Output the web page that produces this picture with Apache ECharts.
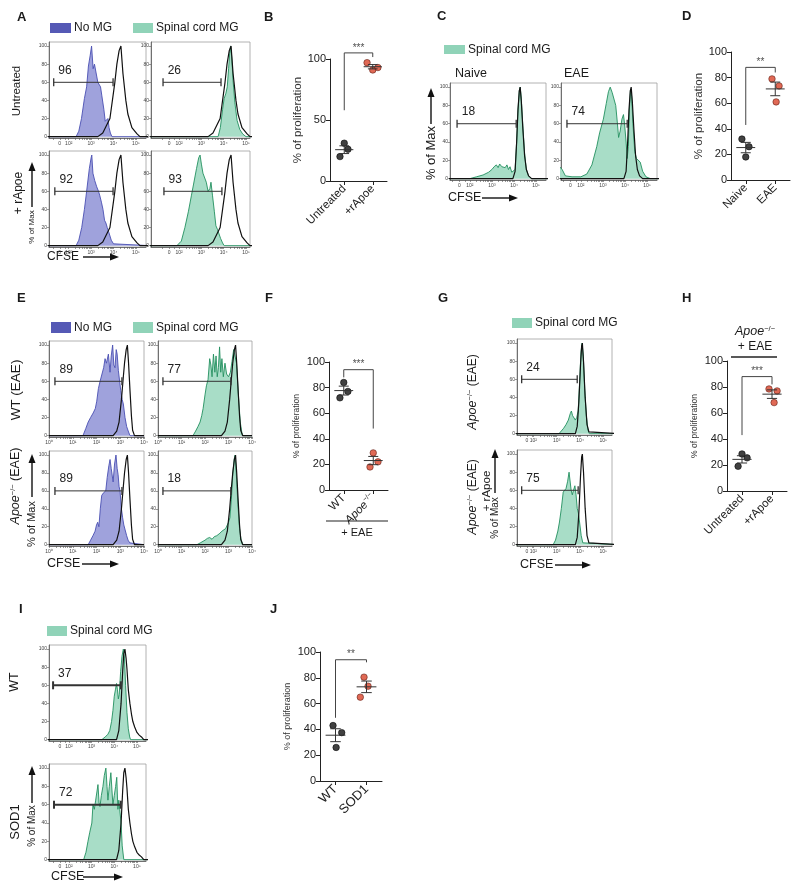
<!DOCTYPE html>
<html>
<head>
<meta charset="utf-8">
<script src="https://cdn.jsdelivr.net/npm/echarts@6/dist/echarts.min.js"></script>
<style>
html, body { margin: 0; background: #fff; }
#main { width: 800px; height: 892px; }
</style>
</head>
<body>
<div id="main"></div>
<script>
// ---- histogram data: [position on CFSE axis (decades), % of max] ----
var ctrlA = [[0.7,0],[3.3,0],[3.52,4],[3.84,20],[4.06,60],[4.15,80],[4.25,95],[4.33,100],[4.42,70],[4.55,40],[4.64,25],[4.82,10],[5.05,3],[5.18,0],[5.6,0]];
var a1NoMG = [[0.7,0],[2.33,0],[2.45,6],[2.57,20],[2.7,42],[2.8,55],[2.88,78],[2.96,90],[3.02,100],[3.09,75],[3.15,80],[3.21,80],[3.3,60],[3.38,58],[3.42,55],[3.48,45],[3.57,30],[3.63,17],[3.68,15],[3.75,20],[3.8,10],[3.86,4],[3.93,0],[5.6,0]];
var a2SpMG = [[0.7,0],[3.75,0],[3.85,10],[3.95,30],[4.02,42],[4.1,48],[4.16,55],[4.22,75],[4.27,92],[4.31,100],[4.36,88],[4.42,62],[4.5,38],[4.6,18],[4.72,8],[4.85,3],[5.0,0],[5.6,0]];
var a3NoMG = [[0.7,0],[2.33,0],[2.45,6],[2.58,20],[2.7,40],[2.8,60],[2.92,85],[3.0,97],[3.03,100],[3.08,80],[3.16,72],[3.25,65],[3.33,60],[3.39,55],[3.46,48],[3.53,40],[3.6,28],[3.66,25],[3.72,20],[3.8,14],[3.9,6],[4.0,2],[4.06,0],[5.6,0]];
var a4SpMG = [[0.7,0],[1.9,0],[2.1,5],[2.26,20],[2.42,38],[2.55,55],[2.65,68],[2.78,85],[2.88,97],[2.94,100],[3.0,90],[3.07,80],[3.15,78],[3.22,70],[3.3,60],[3.38,63],[3.43,70],[3.5,55],[3.58,38],[3.65,22],[3.72,18],[3.8,17],[3.86,8],[3.95,3],[4.02,0],[5.6,0]];

var ctrlC = [[1,0],[3.95,0],[4.05,8],[4.12,40],[4.18,75],[4.24,96],[4.28,100],[4.33,85],[4.4,55],[4.48,25],[4.56,10],[4.66,3],[4.8,0],[5.6,0]];
var cNaive = [[1,0],[2.0,0],[2.3,2],[2.6,4],[2.85,7],[3.0,10],[3.1,13],[3.2,15],[3.28,12],[3.35,16],[3.45,13],[3.52,15],[3.6,12],[3.68,15],[3.75,10],[3.82,13],[3.9,7],[3.98,5],[4.05,10],[4.12,40],[4.18,75],[4.24,96],[4.28,100],[4.33,88],[4.4,58],[4.48,28],[4.56,10],[4.66,3],[4.8,0],[5.6,0]];
var cEAE = [[1,14],[1.15,10],[1.3,3],[1.6,2],[2.0,2],[2.27,5],[2.5,15],[2.72,35],[2.85,50],[3.02,65],[3.15,82],[3.25,95],[3.33,100],[3.42,94],[3.5,96],[3.58,80],[3.65,62],[3.71,45],[3.78,52],[3.86,65],[3.93,70],[3.98,60],[4.05,40],[4.1,22],[4.15,35],[4.2,75],[4.25,98],[4.3,90],[4.36,60],[4.44,30],[4.52,22],[4.6,20],[4.69,18],[4.8,8],[4.95,2],[5.15,0],[5.6,0]];

var ctrlE = [[0,0],[2.7,0],[2.85,5],[2.95,15],[3.05,40],[3.12,62],[3.18,80],[3.25,95],[3.3,100],[3.35,80],[3.41,50],[3.47,22],[3.52,6],[3.6,0],[4,0]];
var e1NoMG = [[0,0],[1.43,0],[1.55,8],[1.65,15],[1.75,20],[1.86,25],[1.95,30],[2.01,38],[2.08,52],[2.15,60],[2.22,58],[2.3,75],[2.36,85],[2.42,80],[2.5,90],[2.57,70],[2.62,88],[2.68,100],[2.73,78],[2.78,75],[2.83,95],[2.87,90],[2.92,72],[2.96,70],[3.02,50],[3.08,40],[3.13,35],[3.2,20],[3.27,10],[3.35,4],[3.41,0],[4,0]];
var e2SpMG = [[0,0],[1.49,0],[1.6,5],[1.7,10],[1.79,15],[1.86,22],[1.92,30],[2.0,45],[2.06,55],[2.13,62],[2.2,85],[2.25,78],[2.3,65],[2.36,90],[2.42,70],[2.47,88],[2.52,65],[2.57,75],[2.62,98],[2.67,70],[2.72,85],[2.78,65],[2.85,80],[2.92,68],[3.0,65],[3.08,70],[3.15,82],[3.22,95],[3.28,97],[3.34,80],[3.42,45],[3.5,15],[3.57,3],[3.62,0],[4,0]];
var e3NoMG = [[0,0],[1.65,0],[1.75,5],[1.85,10],[1.94,15],[2.0,22],[2.05,25],[2.1,20],[2.16,40],[2.22,55],[2.3,58],[2.39,60],[2.45,75],[2.52,88],[2.57,95],[2.62,85],[2.7,70],[2.76,90],[2.82,100],[2.87,85],[2.91,78],[2.95,65],[2.99,60],[3.05,40],[3.1,30],[3.15,22],[3.2,20],[3.27,10],[3.33,5],[3.4,2],[3.48,0],[4,0]];
var e4SpMG = [[0,0],[1.66,0],[1.8,2],[2.0,5],[2.1,7],[2.2,8],[2.3,6],[2.4,9],[2.5,10],[2.6,12],[2.72,15],[2.8,14],[2.88,18],[2.93,20],[3.0,25],[3.06,30],[3.12,50],[3.18,78],[3.24,95],[3.28,100],[3.33,80],[3.4,45],[3.47,18],[3.54,5],[3.62,0],[4,0]];

var ctrlG = [[1,0],[3.8,0],[3.88,8],[3.95,35],[4.02,75],[4.07,97],[4.1,100],[4.15,80],[4.22,40],[4.3,10],[4.38,2],[4.45,0],[5.6,0]];
var g1SpMG = [[1,0],[3.1,0],[3.2,3],[3.3,6],[3.4,10],[3.5,15],[3.58,22],[3.63,25],[3.68,20],[3.75,18],[3.8,15],[3.86,18],[3.92,25],[3.98,55],[4.04,90],[4.09,100],[4.14,85],[4.2,50],[4.27,20],[4.34,4],[4.4,0],[5.6,0]];
var g2SpMG = [[1,0],[2.85,0],[2.95,5],[3.05,15],[3.12,25],[3.2,40],[3.28,58],[3.33,60],[3.4,62],[3.47,70],[3.53,80],[3.57,78],[3.62,60],[3.67,55],[3.72,60],[3.78,65],[3.83,55],[3.88,40],[3.93,35],[3.98,25],[4.05,10],[4.12,2],[4.18,0],[5.6,0]];

var ctrlI = [[1,0],[4.1,0],[4.2,10],[4.3,40],[4.37,75],[4.42,95],[4.47,100],[4.52,90],[4.56,78],[4.62,55],[4.69,40],[4.76,28],[4.82,20],[4.9,14],[5.0,8],[5.1,5],[5.2,3],[5.3,0],[5.6,0]];
var i1WT = [[1,0],[3.45,0],[3.6,3],[3.72,6],[3.8,10],[3.88,20],[3.94,32],[4.0,48],[4.05,55],[4.1,62],[4.14,55],[4.18,45],[4.22,50],[4.28,75],[4.34,92],[4.4,100],[4.45,90],[4.5,60],[4.56,30],[4.62,12],[4.68,3],[4.72,0],[5.6,0]];
var i2SOD1 = [[1,0],[2.65,0],[2.75,8],[2.84,20],[2.92,30],[3.01,40],[3.06,60],[3.12,55],[3.18,65],[3.24,75],[3.28,82],[3.33,62],[3.37,58],[3.43,70],[3.5,80],[3.56,92],[3.63,100],[3.68,80],[3.72,65],[3.78,80],[3.85,95],[3.9,75],[3.94,60],[4.0,70],[4.06,80],[4.11,90],[4.16,55],[4.2,65],[4.24,55],[4.3,40],[4.35,15],[4.42,0],[5.6,0]];

// gate [start, end] and % in gate
var gatesA = [[1.33,3.98],[1.28,3.88],[1.38,3.98],[1.32,3.92]], numsA = ['96','26','92','93'];
var gatesC = [[1.42,4.1],[1.37,4.1]], numsC = ['18','74'];
var gatesE = [[0.25,3.07],[0.21,3.1],[0.25,3.07],[0.21,3.1]], numsE = ['89','77','89','18'];
var gatesG = [[1.5,3.88],[1.5,3.92]], numsG = ['24','75'];
var gatesI = [[1.3,4.29],[1.34,4.29]], numsI = ['37','72'];

// ---- % of proliferation (dot plots) ----
var catsB = ['Untreated', '+rApoe'], bUntreated = [31, 20, 26], bRApoe = [97, 91, 93];
var catsD = ['Naive', 'EAE'], dNaive = [32, 26, 18], dEAE = [79, 73.5, 61];
var catsF = ['WT', 'Apoe'], fWT = [84, 77, 72], fApoe = [29, 22, 18];
var catsH = ['Untreated', '+rApoe'], hUntreated = [28.5, 25.5, 19], hRApoe = [78.5, 77, 68];
var catsJ = ['WT', 'SOD1'], jWT = [43, 37.5, 26], jSOD1 = [80.5, 73.5, 65];
// horizontal spread of the dots inside each column
var jitB = [[0, -0.15, 0.13], [-0.2, 0, 0.18]];
var jitD = [[-0.13, 0.11, 0], [-0.11, 0.13, 0.03]];
var jitF = [[0, 0.14, -0.13], [0, 0.16, -0.11]];
var jitH = [[0, 0.17, -0.13], [-0.1, 0.17, 0.07]];
var jitJ = [[-0.08, 0.2, 0.02], [-0.08, 0.05, -0.2]];

var FONT = '"Liberation Sans", Arial, Helvetica, sans-serif';
var BLUE = {fill: '#9fa2dc', line: '#4a4fb2', key: '#5559b5'};
var GREEN = {fill: '#a8ddc7', line: '#22905f', key: '#90d3b8'};
var RED = '#d8432b';
var SUP = ['\u2070', '\u00b9', '\u00b2', '\u00b3', '\u2074', '\u2075'];

var option = {
    animation: false,
    backgroundColor: '#fff',
    textStyle: {fontFamily: FONT},
    grid: [], xAxis: [], yAxis: [], series: [], graphic: []
};

function logTicks(a, b) {
    var t = [];
    for (var d = a; d < b; d++) {
        for (var k = 1; k < 10; k++) t.push(d + Math.log10(k));
    }
    t.push(b);
    return t;
}

// one flow histogram box
function histPanel(box, ax, fill, ctrl, col, gate, num, bold) {
    var gi = option.grid.length;
    option.grid.push({left: box[0], top: box[1], width: box[2], height: box[3], show: true,
        borderColor: '#a0a0a0', borderWidth: 0.8});
    var labs, ticks;
    if (ax.log) {
        labs = [0, 1, 2, 3, 4];
        ticks = logTicks(0, 4);
    } else {
        labs = [ax.zero, 2, 3, 4, 5];
        ticks = [ax.zero - 0.3, ax.zero, ax.zero + 0.25].concat(logTicks(2, 5));
    }
    ticks = ticks.filter(function (v) { return v >= ax.min && v <= ax.max; });
    option.xAxis.push({
        type: 'value', gridIndex: gi, min: ax.min, max: ax.max,
        axisLine: {show: true, onZero: false, lineStyle: {color: '#555', width: 0.8}},
        axisTick: {show: true, customValues: ticks, length: 2, lineStyle: {color: '#555', width: 0.6}},
        axisLabel: {customValues: labs, fontSize: 5, margin: 3, color: '#444',
            formatter: function (v) {
                if (!ax.log && Math.abs(v - ax.zero) < 1e-6) return '0';
                return '10' + SUP[Math.round(v)];
            }},
        splitLine: {show: false}
    });
    option.yAxis.push({
        type: 'value', gridIndex: gi, min: -1.5, max: 104.5,
        axisLine: {show: true, onZero: false, lineStyle: {color: '#555', width: 0.8}},
        axisTick: {show: true, customValues: [0, 20, 40, 60, 80, 100], length: 2, lineStyle: {color: '#555', width: 0.6}},
        axisLabel: {customValues: [0, 20, 40, 60, 80, 100], fontSize: 5, margin: 2, color: '#444'},
        splitLine: {show: false}
    });
    option.series.push({type: 'line', xAxisIndex: gi, yAxisIndex: gi, data: fill, symbol: 'none',
        lineStyle: {color: col.line, width: 0.9}, areaStyle: {color: col.fill, opacity: 1}, z: 2, silent: true});
    option.series.push({type: 'line', xAxisIndex: gi, yAxisIndex: gi, data: ctrl, symbol: 'none',
        lineStyle: {color: '#111', width: 1.2}, z: 3, silent: true});
    option.series.push({type: 'line', xAxisIndex: gi, yAxisIndex: gi, symbol: 'rect',
        symbolSize: [bold ? 2 : 1.3, 8], itemStyle: {color: '#333'},
        lineStyle: {color: '#333', width: bold ? 2 : 1}, z: 4, silent: true,
        data: [{value: [gate[0], 60], label: {show: true, formatter: num, position: 'right', distance: 4,
            offset: [0, -12], fontSize: 12, color: '#222', fontFamily: FONT}}, [gate[1], 60]]});
}

function meanSem(arr) {
    var m = arr.reduce(function (a, b) { return a + b; }, 0) / arr.length;
    var ss = arr.reduce(function (a, b) { return a + (b - m) * (b - m); }, 0) / (arr.length - 1);
    return [m, Math.sqrt(ss / arr.length)];
}

// one dot plot with mean +- SEM and a significance bracket
function dotPanel(box, cats, groups, jit, o) {
    var gi = option.grid.length;
    option.grid.push({left: box[0], top: box[1], width: box[2], height: box[3]});
    option.xAxis.push({
        type: 'value', gridIndex: gi, min: -0.5, max: 1.5,
        axisLine: {show: true, onZero: false, lineStyle: {color: '#222', width: 1}},
        axisTick: {show: true, customValues: [0, 1], length: 4, lineStyle: {color: '#222'}},
        axisLabel: {customValues: [0, 1], rotate: 45, fontSize: o.catSize || 11.5, margin: 6, color: '#222',
            formatter: o.catFmt || function (v) { return cats[Math.round(v)]; }, rich: o.catRich},
        splitLine: {show: false}
    });
    option.yAxis.push({
        type: 'value', gridIndex: gi, min: 0, max: 100, interval: o.interval,
        axisLine: {show: true, onZero: false, lineStyle: {color: '#222', width: 1}},
        axisTick: {show: true, length: 4, lineStyle: {color: '#222'}},
        axisLabel: {fontSize: 11, margin: 4, color: '#222'},
        splitLine: {show: false},
        name: '% of proliferation', nameLocation: 'middle', nameRotate: 90, nameGap: o.nameGap,
        nameTextStyle: {fontSize: o.nameSize, color: '#333', fontFamily: FONT}
    });
    var colors = ['#111', RED];
    groups.forEach(function (g, ci) {
        option.series.push({type: 'scatter', xAxisIndex: gi, yAxisIndex: gi, symbolSize: 6.5, z: 3, silent: true,
            itemStyle: {color: colors[ci], borderColor: ci ? '#5a1a10' : '#000', borderWidth: 0.7},
            data: g.map(function (v, k) { return [ci + jit[ci][k], v]; })});
    });
    option.series.push({type: 'custom', xAxisIndex: gi, yAxisIndex: gi, z: 4, silent: true,
        data: groups.map(function (g, ci) { var s = meanSem(g); return [ci, s[0], s[1]]; }),
        renderItem: function (params, api) {
            var x = api.value(0), m = api.value(1), e = api.value(2);
            var c = api.coord([x, m]), hi = api.coord([x, m + e]), lo = api.coord([x, m - e]);
            var w = api.size([0.32, 0])[0], cw = api.size([0.17, 0])[0];
            var st = {stroke: '#333', lineWidth: 1};
            return {type: 'group', children: [
                {type: 'line', shape: {x1: c[0] - w, y1: c[1], x2: c[0] + w, y2: c[1]}, style: st},
                {type: 'line', shape: {x1: c[0], y1: hi[1], x2: c[0], y2: lo[1]}, style: st},
                {type: 'line', shape: {x1: c[0] - cw, y1: hi[1], x2: c[0] + cw, y2: hi[1]}, style: st},
                {type: 'line', shape: {x1: c[0] - cw, y1: lo[1], x2: c[0] + cw, y2: lo[1]}, style: st}
            ]};
        }});
    var b = o.bracket;
    option.series.push({type: 'line', xAxisIndex: gi, yAxisIndex: gi, symbol: 'none', clip: false, z: 2, silent: true,
        lineStyle: {color: '#444', width: 1}, data: [[0, b[0]], [0, b[1]], [1, b[1]], [1, b[2]]]});
    option.series.push({type: 'scatter', xAxisIndex: gi, yAxisIndex: gi, symbolSize: 0, clip: false, silent: true,
        data: [[0.5, b[1]]], label: {show: true, formatter: o.stars, position: 'top', distance: 0,
            fontSize: 10, color: '#222'}});
}

// ---- build panels ----
var axA1 = {min: 1.12, max: 5.45, zero: 1.6}, axA2 = {min: 0.74, max: 5.18, zero: 1.55};
histPanel([49, 42, 97, 96], axA1, a1NoMG, ctrlA, BLUE, gatesA[0], numsA[0]);
histPanel([151, 42, 99, 96], axA2, a2SpMG, ctrlA, GREEN, gatesA[1], numsA[1]);
histPanel([49, 151, 97, 96], axA1, a3NoMG, ctrlA, BLUE, gatesA[2], numsA[2]);
histPanel([151, 151, 99, 96], axA2, a4SpMG, ctrlA, GREEN, gatesA[3], numsA[3]);

var axC = {min: 1.1, max: 5.45, zero: 1.52};
histPanel([450, 83, 96, 97], axC, cNaive, ctrlC, GREEN, gatesC[0], numsC[0]);
histPanel([561, 83, 96, 97], axC, cEAE, ctrlC, GREEN, gatesC[1], numsC[1]);

var axE = {log: true, min: 0, max: 4};
histPanel([49, 341, 95, 96], axE, e1NoMG, ctrlE, BLUE, gatesE[0], numsE[0]);
histPanel([158, 341, 94, 96], axE, e2SpMG, ctrlE, GREEN, gatesE[1], numsE[1]);
histPanel([49, 451, 95, 95], axE, e3NoMG, ctrlE, BLUE, gatesE[2], numsE[2]);
histPanel([158, 451, 94, 95], axE, e4SpMG, ctrlE, GREEN, gatesE[3], numsE[3]);

var axG = {min: 1.3, max: 5.37, zero: 1.72};
histPanel([517, 339, 95, 96], axG, g1SpMG, ctrlG, GREEN, gatesG[0], numsG[0]);
histPanel([517, 450, 95, 96], axG, g2SpMG, ctrlG, GREEN, gatesG[1], numsG[1]);

var axI = {min: 1.12, max: 5.4, zero: 1.6};
histPanel([49, 645, 97, 96], axI, i1WT, ctrlI, GREEN, gatesI[0], numsI[0], true);
histPanel([49, 764, 97, 97], axI, i2SOD1, ctrlI, GREEN, gatesI[1], numsI[1], true);

dotPanel([330, 59, 57, 122], catsB, [bUntreated, bRApoe], jitB,
    {interval: 50, nameSize: 11.5, nameGap: 24, bracket: [58, 105, 101.6], stars: '***'});
dotPanel([731, 52, 59, 128], catsD, [dNaive, dEAE], jitD,
    {interval: 20, nameSize: 11.5, nameGap: 23, bracket: [43, 88, 84], stars: '**'});
dotPanel([329, 362, 59, 128], catsF, [fWT, fApoe], jitF,
    {interval: 20, nameSize: 8.5, nameGap: 28, bracket: [88, 94, 48], stars: '***',
     catFmt: function (v) { return v < 0.5 ? 'WT' : '{i|Apoe}{s|\u2212/\u2212}'; },
     catRich: {i: {fontStyle: 'italic', fontSize: 11.5, fontFamily: FONT}, s: {fontSize: 7, fontFamily: FONT, padding: [0, 0, 7, 0]}}});
dotPanel([727, 361, 60, 130], catsH, [hUntreated, hRApoe], jitH,
    {interval: 20, nameSize: 8.5, nameGap: 28, bracket: [43, 88, 82], stars: '***'});
dotPanel([320, 652, 62, 129], catsJ, [jWT, jSOD1], jitJ,
    {interval: 20, nameSize: 9, nameGap: 28, bracket: [49, 94, 92], stars: '**', catSize: 13});

// ---- annotations ----
var G = option.graphic;
function txt(x, y, s, size, extra) {
    var st = {text: s, x: 0, y: 0, fontSize: size, fontFamily: FONT, fill: '#1a1a1a', align: 'left', verticalAlign: 'middle'};
    for (var k in (extra || {})) st[k] = extra[k];
    G.push({type: 'text', x: x, y: y, rotation: st.rot || 0, style: st, silent: true});
}
function vtxt(x, y, s, size, extra) {
    var e = {align: 'center', rot: Math.PI / 2};
    for (var k in (extra || {})) e[k] = extra[k];
    txt(x, y, s, size, e);
}
function arrow(x1, y1, x2, y2) {
    var dx = x2 - x1, dy = y2 - y1, L = Math.sqrt(dx * dx + dy * dy), ux = dx / L, uy = dy / L;
    var hl = 9, hw = 3.5, bx = x2 - ux * hl, by = y2 - uy * hl;
    G.push({type: 'line', shape: {x1: x1, y1: y1, x2: bx, y2: by}, style: {stroke: '#111', lineWidth: 1.4}, silent: true});
    G.push({type: 'polygon', shape: {points: [[x2, y2], [bx - uy * hw, by + ux * hw], [bx + uy * hw, by - ux * hw]]},
        style: {fill: '#111'}, silent: true});
}
function key(x, y, w, h, c, label) {
    G.push({type: 'rect', shape: {x: x, y: y, width: w, height: h}, style: {fill: c}, silent: true});
    txt(x + w + 3, y + h / 2, label, 12);
}
var apoeRich = {i: {fontStyle: 'italic', fontFamily: FONT, fontSize: 12.5, fill: '#1a1a1a'},
    s: {fontFamily: FONT, fontSize: 7.5, fill: '#1a1a1a', padding: [0, 0, 7, 0]}};

// panel letters
[['A', 17, 17], ['B', 264, 17], ['C', 437, 16], ['D', 682, 16], ['E', 17, 298], ['F', 265, 298],
 ['G', 438, 298], ['H', 682, 298], ['I', 19, 609], ['J', 270, 609]].forEach(function (p) {
    txt(p[1], p[2], p[0], 13, {fontWeight: 'bold'});
});

// A
key(50, 23, 21, 10, BLUE.key, 'No MG');
key(133, 23, 20, 10, GREEN.key, 'Spinal cord MG');
vtxt(17, 91, 'Untreated', 11.5);
vtxt(19, 193, '+ rApoe', 12);
arrow(32, 207, 32, 162);
vtxt(32, 227, '% of Max', 8);
txt(47, 257, 'CFSE', 12);
arrow(83, 257, 119, 257);

// C
key(444, 45, 21, 9, GREEN.key, 'Spinal cord MG');
txt(455, 74, 'Naive', 12.5);
txt(564, 74, 'EAE', 12.5);
vtxt(431, 153, '% of Max', 13);
arrow(431, 124, 431, 88);
txt(448, 198, 'CFSE', 12.5);
arrow(482, 198, 518, 198);

// E
key(51, 322, 20, 11, BLUE.key, 'No MG');
key(133, 322, 20, 11, GREEN.key, 'Spinal cord MG');
vtxt(16, 390, 'WT (EAE)', 13.5);
vtxt(16, 486, '{i|Apoe}{s|\u2212/\u2212} (EAE)', 12.5, {rich: apoeRich});
arrow(32, 497, 32, 454);
vtxt(32, 524, '% of Max', 11);
txt(47, 564, 'CFSE', 12.5);
arrow(82, 564, 119, 564);

// F footer
G.push({type: 'line', shape: {x1: 326, y1: 521, x2: 388, y2: 521}, style: {stroke: '#222', lineWidth: 1.2}, silent: true});
txt(357, 533, '+ EAE', 11, {align: 'center'});

// G
key(512, 318, 20, 10, GREEN.key, 'Spinal cord MG');
vtxt(473, 392, '{i|Apoe}{s|\u2212/\u2212} (EAE)', 12, {rich: apoeRich});
vtxt(473, 497, '{i|Apoe}{s|\u2212/\u2212} (EAE)', 12, {rich: apoeRich});
vtxt(487, 491, '+ rApoe', 11.5);
arrow(495, 493, 495, 449);
vtxt(495, 518, '% of Max', 10);
txt(520, 565, 'CFSE', 12.5);
arrow(555, 565, 591, 565);

// H header
txt(755, 332, '{i|Apoe}{s|\u2212/\u2212}', 12.5, {align: 'center', rich: apoeRich});
txt(755, 347, '+ EAE', 12, {align: 'center'});
G.push({type: 'line', shape: {x1: 731, y1: 357, x2: 777, y2: 357}, style: {stroke: '#222', lineWidth: 1.4}, silent: true});

// I
key(47, 626, 20, 10, GREEN.key, 'Spinal cord MG');
vtxt(15, 682, 'WT', 12.5);
vtxt(15, 822, 'SOD1', 13);
arrow(32, 803, 32, 766);
vtxt(32, 826, '% of Max', 10);
txt(51, 877, 'CFSE', 12.5);
arrow(83, 877, 123, 877);

var chart = echarts.init(document.getElementById('main'), null, {renderer: 'canvas'});
chart.setOption(option);
</script>
</body>
</html>
